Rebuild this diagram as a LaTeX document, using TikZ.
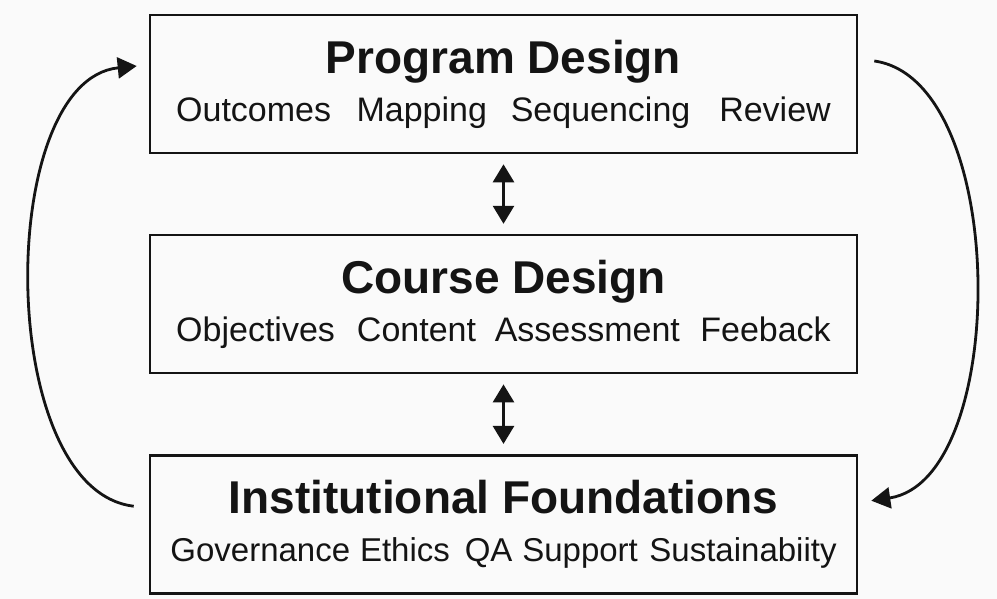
\documentclass[tikz,border=0pt]{standalone}
\usepackage{fontspec}
\setmainfont{Liberation Sans}
\usetikzlibrary{arrows.meta}
\usetikzlibrary{positioning}
\usepackage{xcolor}

\definecolor{paper}{RGB}{250,250,250}
\definecolor{ink}{RGB}{20,20,20}

\tikzset{
	layer/.style={draw=ink, line width=2.6pt, fill=paper, minimum width=707pt, minimum height=138pt, inner sep=0pt},
	headline/.style={text=ink, font=\fontsize{46}{50}\selectfont\bfseries, inner sep=0pt, anchor=base},
	topics/.style={text=ink, font=\fontsize{34}{38}\selectfont, inner sep=0pt, anchor=base},
	link/.style={draw=ink, line width=2.8pt, -{Triangle[length=19pt,width=21pt]}},
	twoway/.style={draw=ink, line width=2.8pt, {Triangle[length=18pt,width=21pt]}-{Triangle[length=18pt,width=21pt]}, shorten <=10pt, shorten >=10pt},
}

\begin{document}
\begin{tikzpicture}[x=1pt, y=-1pt] % three design levels
	
	\fill[paper] (0,0) rectangle (997,599);
	\useasboundingbox (0,0) rectangle (997,599);
	
	%boxes
	\node[layer] (program) at (503.5,84) {};
	\node[layer, below=79.5pt of program] (course) {};
	\node[layer, below=79.5pt of course] (inst) {};
	
	%labels
	\node[headline] (programtitle) at ([yshift=-60pt]program.north) {Program Design};
	\node[topics] (programtopics) at ([yshift=-108pt]program.north) {Outcomes\hspace{0.75em}Mapping\hspace{0.7em}Sequencing\hspace{0.85em}Review};
	
	\node[headline] (coursetitle) at ([yshift=-60pt]course.north) {Course Design};
	\node[topics] (coursetopics) at ([yshift=-108pt]course.north) {Objectives\hspace{0.65em}Content\hspace{0.55em}Assessment\hspace{0.6em}Feeback};
	
	\node[headline] (insttitle) at ([yshift=-60pt]inst.north) {Institutional Foundations};
	\node[topics, font=\fontsize{33}{38}\selectfont] (insttopics) at ([yshift=-108pt]inst.north) {Governance\hspace{0.3em}Ethics\hspace{0.45em}QA\hspace{0.3em}Support\hspace{0.35em}Sustainabiity};
	
	%arrows
	\draw[twoway] (program) -- (course);
	\draw[twoway] (course) -- (inst);
	
	\coordinate (backstart) at ([xshift=-15pt, yshift=18pt]inst.west);
	\coordinate (backend) at ([xshift=-12pt, yshift=18pt]program.west);
	\coordinate (fwdstart) at ([xshift=16pt, yshift=23pt]program.east);
	\coordinate (fwdend) at ([xshift=13pt, yshift=23.5pt]inst.east);
	
	\draw[link] (backstart) .. controls (-5,490) and (-5,80) .. (backend);
	\draw[link] (fwdstart) .. controls (1010,80) and (1010,480) .. (fwdend);
	
\end{tikzpicture}
\end{document}
